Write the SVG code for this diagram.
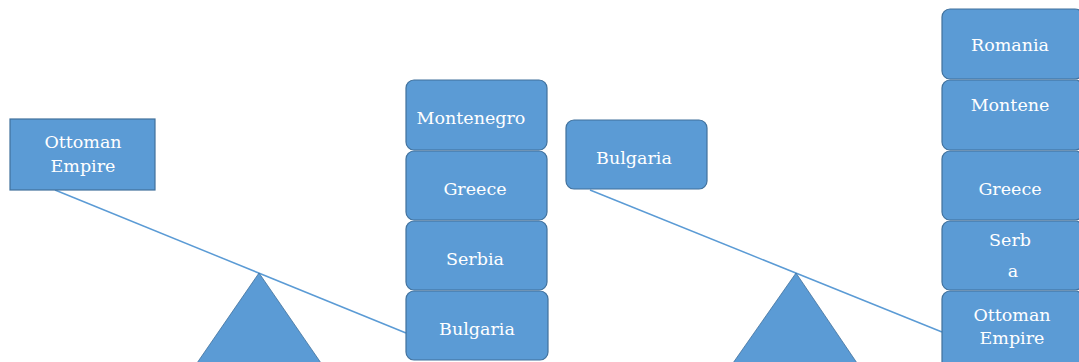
<svg xmlns="http://www.w3.org/2000/svg" width="1079" height="362" viewBox="0 0 1079 362">
<style>
.box{fill:#5b9bd5;stroke:#41719c;stroke-width:1.2}
.tri{fill:#5b9bd5;stroke:#41719c;stroke-width:0.8}
.lbl{font-family:"DejaVu Serif","Liberation Serif",serif;font-size:17.5px;fill:#ffffff;text-anchor:middle}
.beam{stroke:#5b9bd5;stroke-width:1.5;fill:none}
</style>
<rect width="1079" height="362" fill="#ffffff"/>
<g id="connectors">
<line class="beam" x1="55" y1="190" x2="406" y2="333"/>
<line class="beam" x1="590" y1="190" x2="942" y2="332"/>
</g>
<g id="fulcrum-left"><polygon class="tri" points="259,273 197,363 321,363"/></g>
<g id="fulcrum-right"><polygon class="tri" points="796,273 733,363 857,363"/></g>
<g id="ottoman-left"><rect class="box" x="10" y="119" width="145" height="71"/>
<text class="lbl" x="83" y="148">Ottoman</text><text class="lbl" x="83" y="172">Empire</text></g>
<g id="montenegro-left"><rect class="box" x="406" y="80" width="141" height="70" rx="8"/>
<text class="lbl" x="471" y="124">Montenegro</text></g>
<g id="greece-left"><rect class="box" x="406" y="151" width="141" height="69" rx="8"/>
<text class="lbl" x="475" y="195">Greece</text></g>
<g id="serbia-left"><rect class="box" x="406" y="221" width="141" height="69" rx="8"/>
<text class="lbl" x="475" y="265">Serbia</text></g>
<g id="bulgaria-left"><rect class="box" x="406" y="291" width="142" height="69" rx="8"/>
<text class="lbl" x="477" y="335">Bulgaria</text></g>
<g id="bulgaria-right"><rect class="box" x="566" y="120" width="141" height="69" rx="8"/>
<text class="lbl" x="634" y="164">Bulgaria</text></g>
<g id="romania-right"><rect class="box" x="942" y="9" width="141" height="70" rx="8"/>
<text class="lbl" x="1010" y="51">Romania</text></g>
<g id="montene-right"><rect class="box" x="942" y="80" width="141" height="70" rx="8"/>
<text class="lbl" x="1010" y="111">Montene</text></g>
<g id="greece-right"><rect class="box" x="942" y="151" width="141" height="69" rx="8"/>
<text class="lbl" x="1010" y="195">Greece</text></g>
<g id="serbia-right"><rect class="box" x="942" y="221" width="141" height="69" rx="8"/>
<text class="lbl" x="1010" y="246">Serb</text><text class="lbl" x="1013" y="277">a</text></g>
<g id="ottoman-right"><rect class="box" x="942" y="291" width="141" height="80" rx="8"/>
<text class="lbl" x="1012" y="321">Ottoman</text><text class="lbl" x="1012" y="344">Empire</text></g>
</svg>
